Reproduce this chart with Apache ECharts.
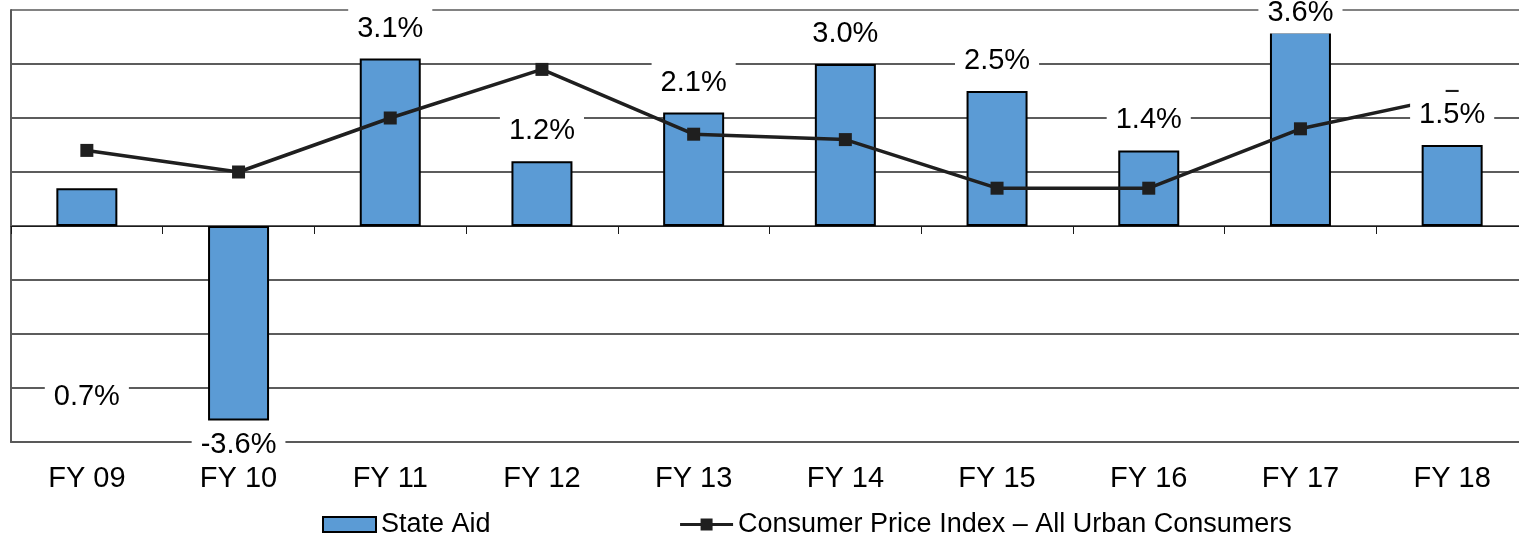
<!DOCTYPE html>
<html>
<head>
<meta charset="utf-8">
<script src="https://cdn.jsdelivr.net/npm/echarts@6/dist/echarts.min.js"></script>
<style>
  html, body { margin: 0; padding: 0; background: #fff; overflow: hidden; }
  /* plot area runs a little past the right edge of the window, like the original */
  #container { width: 1528px; height: 539px; }
</style>
</head>
<body>
<div id="container"></div>
<script>
var years = ['FY 09', 'FY 10', 'FY 11', 'FY 12', 'FY 13', 'FY 14', 'FY 15', 'FY 16', 'FY 17', 'FY 18'];
var stateAid = [0.7, -3.6, 3.1, 1.2, 2.1, 3.0, 2.5, 1.4, 3.6, 1.5];
var cpi = [1.4, 1.0, 2.0, 2.9, 1.7, 1.6, 0.7, 0.7, 1.8, 2.4];

var font = 'Liberation Sans, Arial, sans-serif';

// label placement tweaks (Excel put a few labels in odd spots)
var labelTweaks = {
	'FY 09': { position: 'bottom', distance: 148 },
	'FY 10': { position: 'bottom', distance: 2 },
	'FY 17': { offset: [0, 15], padding: [8, 9, 6, 9] }
};

var labelData = [];
for (var i = 0; i < years.length; i++) {
	var item = { value: stateAid[i] };
	if (labelTweaks[years[i]]) {
		item.label = labelTweaks[years[i]];
	}
	labelData.push(item);
}

var dom = document.getElementById('container');
var myChart = echarts.init(dom);

var option = {
	animation: false,
	textStyle: { fontFamily: font },
	grid: {
		left: 11,
		top: 10,
		right: 0,
		bottom: 97
	},
	legend: {
		data: [
			{ name: 'State Aid', icon: 'rect' },
			{ name: 'Consumer Price Index – All Urban Consumers', lineStyle: { width: 3 } }
		],
		left: 322,
		top: 511,
		padding: 0,
		itemWidth: 53,
		itemHeight: 15,
		itemGap: 188,
		textStyle: { fontSize: 27, color: '#000', fontFamily: font }
	},
	xAxis: [
		{
			type: 'category',
			data: years,
			position: 'bottom',
			axisLine: { onZero: false, lineStyle: { color: '#595959', width: 2 } },
			axisTick: { show: false },
			axisLabel: { fontSize: 29, color: '#000', margin: 22, fontFamily: font }
		},
		{
			type: 'category',
			data: years,
			position: 'bottom',
			axisLine: { onZero: true, lineStyle: { color: '#1a1a1a', width: 1 } },
			axisTick: { show: true, length: 8, lineStyle: { color: '#1a1a1a' } },
			axisLabel: { show: false }
		}
	],
	yAxis: {
		type: 'value',
		min: -4,
		max: 4,
		interval: 1,
		axisLine: { show: true, lineStyle: { color: '#595959', width: 2 } },
		axisTick: { show: false },
		axisLabel: { show: false },
		splitLine: {
			lineStyle: {
				// top line is the plot border, a bit greyer
				color: ['#262626', '#262626', '#262626', '#262626', '#262626', '#262626', '#262626', '#262626', '#595959'],
				width: 1.5
			}
		}
	},
	series: [
		{
			name: 'State Aid',
			type: 'bar',
			xAxisIndex: 0,
			data: stateAid,
			barWidth: 61,
			z: 2,
			itemStyle: { color: '#5B9BD5', borderColor: '#000', borderWidth: 2 }
		},
		{
			name: 'Consumer Price Index – All Urban Consumers',
			type: 'line',
			xAxisIndex: 0,
			data: cpi,
			z: 3,
			symbol: 'rect',
			symbolSize: 13,
			lineStyle: { color: '#1f1f1f', width: 3.5 },
			itemStyle: { color: '#1f1f1f' }
		},
		{
			// labels only, drawn above the line
			name: 'labels',
			type: 'bar',
			xAxisIndex: 0,
			data: labelData,
			barWidth: 61,
			barGap: '-100%',
			z: 4,
			silent: true,
			itemStyle: { color: 'rgba(0,0,0,0)', borderWidth: 0 },
			label: {
				show: true,
				position: 'top',
				distance: 13,
				fontSize: 29,
				lineHeight: 30,
				color: '#000',
				fontFamily: font,
				backgroundColor: '#fff',
				padding: [8, 9, 2, 9],
				formatter: function (p) {
					return p.value.toFixed(1) + '%';
				}
			}
		}
	]
};

if (option && typeof option === 'object') {
	myChart.setOption(option, true);
}
</script>
</body>
</html>
